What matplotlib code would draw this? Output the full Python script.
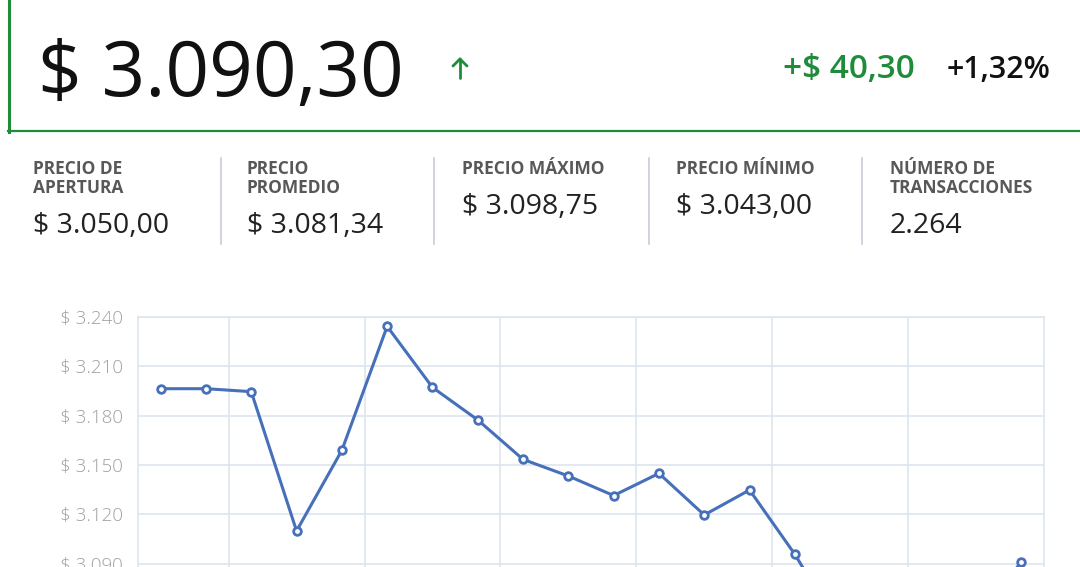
import matplotlib
matplotlib.use("Agg")
import matplotlib.pyplot as plt
from matplotlib.lines import Line2D

W, H = 1080, 567

# header values
last_price = "$ 3.090,30"
change_abs = "+$ 40,30"
change_pct = "+1,32%"

stat_labels = [
    ["PRECIO DE", "APERTURA"],
    ["PRECIO", "PROMEDIO"],
    ["PRECIO MÁXIMO"],
    ["PRECIO MÍNIMO"],
    ["NÚMERO DE", "TRANSACCIONES"],
]
stat_values = ["$ 3.050,00", "$ 3.081,34", "$ 3.098,75", "$ 3.043,00", "2.264"]

# intraday series (last points before the final one sit below the visible area)
prices = [3196.4, 3196.4, 3194.6, 3109.9, 3158.9, 3234.3, 3197.2, 3177.4, 3153.4,
          3143.3, 3131.4, 3144.9, 3119.6, 3134.8, 3095.7, 3050.0, 3064.0, 3072.0,
          3055.0, 3091.2]
y_ticks = [3030, 3060, 3090, 3120, 3150, 3180, 3210, 3240]
y_tick_labels = ["$ 3.030", "$ 3.060", "$ 3.090", "$ 3.120", "$ 3.150",
                 "$ 3.180", "$ 3.210", "$ 3.240"]

GREEN = "#1f8c3b"
BLUE = "#4670b9"
GRID = "#dde5ef"

plt.rcParams["font.family"] = ["Open Sans", "DejaVu Sans"]


def fx(x):
    return x / W


def fy(y):
    return 1 - y / H


fig = plt.figure(figsize=(W / 100, H / 100), dpi=100)
fig.patch.set_facecolor("white")

# green frame of the header
fig.add_artist(Line2D([fx(8.5), fx(8.5)], [fy(0), fy(132)], color=GREEN, lw=2.2))
fig.add_artist(Line2D([fx(8), fx(1080)], [fy(131), fy(131)], color=GREEN, lw=1.6))

fig.text(fx(38), fy(96), last_price, fontsize=55, color="#111111", va="baseline")

# up arrow next to the price: shaft + chevron
fig.add_artist(Line2D([fx(460), fx(460)], [fy(78), fy(59)], color=GREEN, lw=2.0,
                      solid_capstyle="round"))
fig.add_artist(Line2D([fx(453), fx(460), fx(467)], [fy(66), fy(59), fy(66)],
                      color=GREEN, lw=2.0, solid_capstyle="round",
                      solid_joinstyle="miter"))

fig.text(fx(915), fy(78), change_abs, fontsize=24, color=GREEN, fontweight="semibold",
         va="baseline", ha="right")
fig.text(fx(1050), fy(78), change_pct, fontsize=22, color="#111111",
         fontweight="semibold", va="baseline", ha="right")

# stats row
col_x = [33, 247, 462, 676, 890]
for x, lab, val in zip(col_x, stat_labels, stat_values):
    for i, line in enumerate(lab):
        fig.text(fx(x), fy(174 + 19 * i), line, fontsize=12.5, color="#585858",
                 fontweight="bold", va="baseline")
    base = 233 if len(lab) == 2 else 214
    fig.text(fx(x), fy(base), val, fontsize=20.5, color="#222222", va="baseline")

for x in [221, 434, 649, 862]:
    fig.add_artist(Line2D([fx(x), fx(x)], [fy(158), fy(244)], color="#c9c9dd", lw=1.2))

# chart: axes extends below the visible canvas
ymin, ymax = 3030, 3240
top, left, right = 317, 138, 1044
px_per_unit = 49.33 / 30
bottom = top + (ymax - ymin) * px_per_unit
ax = fig.add_axes([fx(left), fy(bottom), fx(right - left), (bottom - top) / H])

xs = list(range(len(prices)))
ax.plot(xs, prices, color=BLUE, lw=2.2, marker="o", markersize=5.5,
        markerfacecolor="white", markeredgecolor=BLUE, markeredgewidth=2.0,
        solid_joinstyle="round", zorder=3)

ax.set_xlim(-0.5, len(prices) - 0.5)
ax.set_ylim(ymin, ymax)
ax.set_xticks([1.5, 4.5, 7.5, 10.5, 13.5, 16.5])
ax.set_xticklabels([])
ax.set_yticks(y_ticks)
ax.set_yticklabels(y_tick_labels)
ax.grid(True, color=GRID, lw=1.2)
ax.set_axisbelow(True)
for sp in ax.spines.values():
    sp.set_color(GRID)
    sp.set_linewidth(1.2)
ax.tick_params(axis="both", length=0)
ax.tick_params(axis="y", pad=11, labelsize=13.5, labelcolor="#a0a0a0")
for t in ax.get_yticklabels():
    t.set_fontweight("light")

fig.savefig("out.png", dpi=100, facecolor="white")
